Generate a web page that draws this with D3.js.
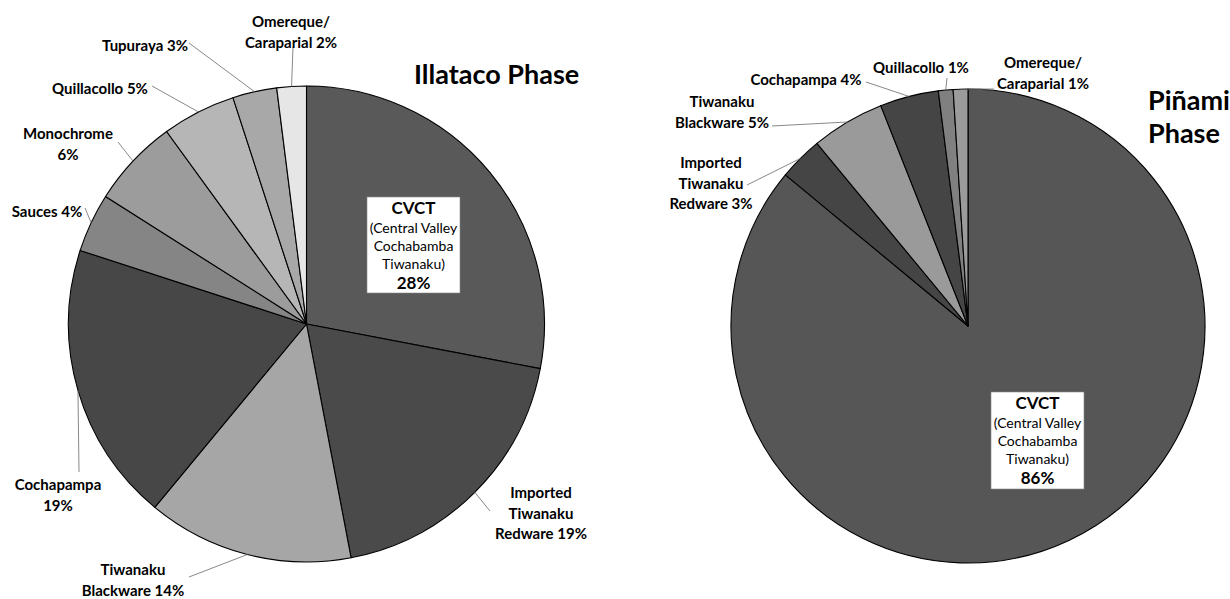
<!DOCTYPE html>
<html>
<head>
<meta charset="utf-8">
<script src="https://cdn.jsdelivr.net/npm/d3@7"></script>
<style>
  html, body { margin: 0; padding: 0; background: #ffffff; }
  svg { display: block; }
  text { font-family: Lato, "Open Sans", sans-serif; fill: #000; }
</style>
</head>
<body>
<svg id="chart" width="1230" height="599"></svg>
<script>
// Ceramic assemblage composition by phase (percent of sherds)
const illatacoTypes = ["CVCT", "Imported Tiwanaku Redware", "Tiwanaku Blackware", "Cochapampa",
  "Sauces", "Monochrome", "Quillacollo", "Tupuraya", "Omereque/Caraparial"];
const illatacoPercents = [28, 19, 14, 19, 4, 6, 5, 3, 2];

const pinamiTypes = ["CVCT", "Imported Tiwanaku Redware", "Tiwanaku Blackware", "Cochapampa",
  "Quillacollo", "Omereque/Caraparial"];
const pinamiPercents = [86, 3, 5, 4, 1, 1];

const cvctFullName = ["(Central Valley", "Cochabamba", "Tiwanaku)"];

// Grey shades per ware type
const shade = {
  "CVCT": "#595959",
  "Imported Tiwanaku Redware": "#4a4a4a",
  "Tiwanaku Blackware": "#a6a6a6",
  "Cochapampa": "#474747",
  "Sauces": "#858585",
  "Monochrome": "#9c9c9c",
  "Quillacollo": "#b6b6b6",
  "Tupuraya": "#a8a8a8",
  "Omereque/Caraparial": "#e6e6e6"
};
const shadeRight = {
  "CVCT": "#565656",
  "Imported Tiwanaku Redware": "#454545",
  "Tiwanaku Blackware": "#9a9a9a",
  "Cochapampa": "#454545",
  "Quillacollo": "#808080",
  "Omereque/Caraparial": "#9b9b9b"
};

// Label placement: line breaks of each name, label anchor (x, y of first line), leader end
const illatacoLayout = {
  cx: 306.5, cy: 324, r: 238,
  title: { lines: ["Illataco Phase"], x: 414, y: 74 },
  box: { x: 367, y: 197, w: 93, h: 96 },
  labels: {
    "Imported Tiwanaku Redware": { lines: ["Imported", "Tiwanaku", "Redware"], x: 541, y: 493, lead: [490, 511] },
    "Tiwanaku Blackware": { lines: ["Tiwanaku", "Blackware"], x: 133, y: 570, lead: [189, 577] },
    "Cochapampa": { lines: ["Cochapampa", ""], x: 58, y: 485, lead: [79, 472] },
    "Sauces": { lines: ["Sauces"], x: 47, y: 212, lead: [85, 208] },
    "Monochrome": { lines: ["Monochrome", ""], x: 68, y: 134, lead: [118, 142] },
    "Quillacollo": { lines: ["Quillacollo"], x: 100, y: 89, lead: [152, 86] },
    "Tupuraya": { lines: ["Tupuraya"], x: 145, y: 46, lead: [189, 43] },
    "Omereque/Caraparial": { lines: ["Omereque/", "Caraparial"], x: 291, y: 22, lead: [293, 47] }
  }
};
const pinamiLayout = {
  cx: 968, cy: 326, r: 237,
  title: { lines: ["Piñami", "Phase"], x: 1148, y: 100 },
  box: { x: 991, y: 392, w: 93, h: 97 },
  labels: {
    "Imported Tiwanaku Redware": { lines: ["Imported", "Tiwanaku", "Redware"], x: 711, y: 163, lead: [747, 185] },
    "Tiwanaku Blackware": { lines: ["Tiwanaku", "Blackware"], x: 722, y: 102, lead: [772, 126] },
    "Cochapampa": { lines: ["Cochapampa"], x: 806, y: 80, lead: [866, 82] },
    "Quillacollo": { lines: ["Quillacollo"], x: 921, y: 68, lead: [947, 78] },
    "Omereque/Caraparial": { lines: ["Omereque/", "Caraparial"], x: 1043, y: 63, lead: [994, 89] }
  }
};

const svg = d3.select("#chart");

function drawPhase(types, percents, colors, layout) {
  const data = types.map((t, i) => ({ type: t, pct: percents[i] }));
  const pie = d3.pie().value(d => d.pct).sort(null);
  const arcs = pie(data);
  const arc = d3.arc().innerRadius(0).outerRadius(layout.r);
  const g = svg.append("g").attr("transform", `translate(${layout.cx},${layout.cy})`);

  g.selectAll("path.slice")
    .data(arcs)
    .join("path")
    .attr("class", "slice")
    .attr("d", arc)
    .attr("fill", d => colors[d.data.type])
    .attr("stroke", "#000")
    .attr("stroke-width", 1.1)
    .attr("stroke-linejoin", "round");

  // Leader lines from slice edge to label
  const lineH = 20.5;
  arcs.forEach(a => {
    const lab = layout.labels[a.data.type];
    if (!lab) return;
    const mid = (a.startAngle + a.endAngle) / 2;
    const px = layout.cx + Math.sin(mid) * layout.r;
    const py = layout.cy - Math.cos(mid) * layout.r;
    svg.append("line")
      .attr("x1", px).attr("y1", py)
      .attr("x2", lab.lead[0]).attr("y2", lab.lead[1])
      .attr("stroke", "#7a7a7a").attr("stroke-width", 0.9);

    const lines = lab.lines.slice();
    const last = lines.length - 1;
    lines[last] = (lines[last] ? lines[last] + " " : "") + a.data.pct + "%";
    const t = svg.append("text")
      .attr("text-anchor", "middle")
      .attr("font-size", 15)
      .attr("font-weight", 700);
    lines.forEach((ln, i) => {
      t.append("tspan")
        .attr("x", lab.x)
        .attr("y", lab.y + i * lineH)
        .attr("dy", "0.36em")
        .text(ln);
    });
  });

  // CVCT boxed label inside its slice
  const cvct = arcs.find(a => a.data.type === "CVCT");
  const b = layout.box;
  svg.append("rect")
    .attr("x", b.x).attr("y", b.y).attr("width", b.w).attr("height", b.h)
    .attr("fill", "#fff").attr("stroke", "#888").attr("stroke-width", 0.6);
  const bx = b.x + b.w / 2;
  const boxLines = [{ s: cvct.data.type, size: 17, w: 700 }]
    .concat(cvctFullName.map(s => ({ s, size: 14, w: 400 })))
    .concat([{ s: cvct.data.pct + "%", size: 17, w: 700 }]);
  const offs = [11, 31, 49, 67, 86];
  boxLines.forEach((ln, i) => {
    svg.append("text")
      .attr("x", bx).attr("y", b.y + offs[i])
      .attr("dy", "0.36em")
      .attr("text-anchor", "middle")
      .attr("font-size", ln.size)
      .attr("font-weight", ln.w)
      .text(ln.s);
  });

  // Phase title
  const tt = svg.append("text")
    .attr("font-size", 27)
    .attr("font-weight", 700);
  layout.title.lines.forEach((ln, i) => {
    tt.append("tspan")
      .attr("x", layout.title.x)
      .attr("y", layout.title.y + i * 33)
      .attr("dy", "0.36em")
      .text(ln);
  });
}

drawPhase(illatacoTypes, illatacoPercents, shade, illatacoLayout);
drawPhase(pinamiTypes, pinamiPercents, shadeRight, pinamiLayout);
</script>
</body>
</html>
